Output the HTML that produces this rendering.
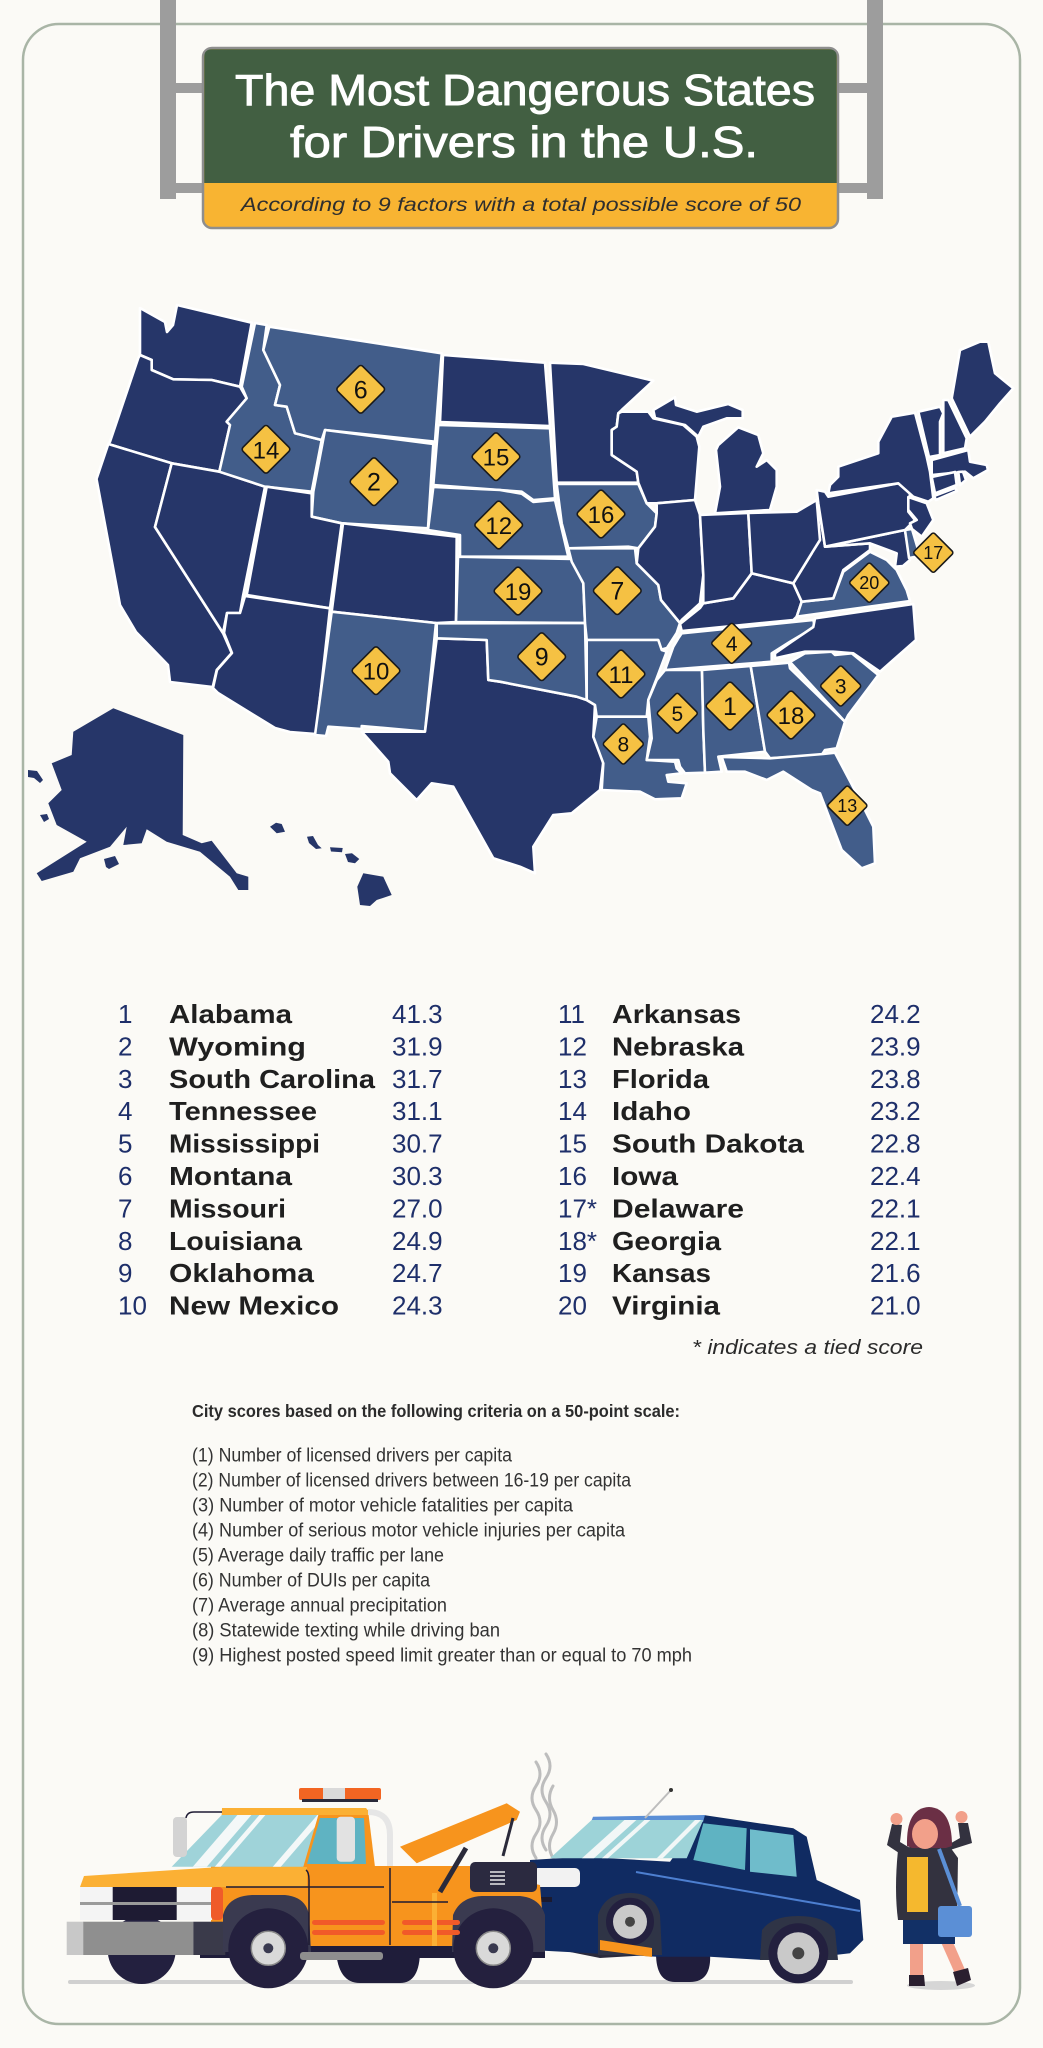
<!DOCTYPE html>
<html><head><meta charset="utf-8"><style>
html,body{margin:0;padding:0;background:#fbfaf6;}
svg{display:block;}
.d{fill:#263669;stroke:#fff;stroke-width:2.6;stroke-linejoin:round;}
.l{fill:#425d8a;stroke:#fff;stroke-width:2.6;stroke-linejoin:round;}
.n{fill:#263669;}
.dm{fill:#f5c143;stroke:#1a1a1a;stroke-width:1.6;}
.dt{font-family:"Liberation Sans",sans-serif;fill:#111;text-anchor:middle;}
.rk{font-family:"Liberation Sans",sans-serif;font-size:26px;fill:#1e2f6a;}
.nm{font-family:"Liberation Sans",sans-serif;font-size:26px;font-weight:bold;fill:#1f1f1f;}
.sc{font-family:"Liberation Sans",sans-serif;font-size:26px;fill:#1e2f6a;}
.cr{font-family:"Liberation Sans",sans-serif;font-size:19px;fill:#333;}
</style></head><body>
<svg width="1043" height="2048" viewBox="0 0 1043 2048" xmlns="http://www.w3.org/2000/svg">
<rect width="1043" height="2048" fill="#fbfaf6"/>
<!-- frame -->
<rect x="23" y="24" width="997" height="2000" rx="36" fill="none" stroke="#a9b5a6" stroke-width="2.5"/>
<!-- poles -->
<rect x="160" y="0" width="16" height="199" fill="#9d9d9d"/>
<rect x="867" y="0" width="16" height="199" fill="#9d9d9d"/>
<rect x="176" y="83" width="30" height="10" fill="#9d9d9d"/>
<rect x="176" y="183" width="30" height="10" fill="#9d9d9d"/>
<rect x="836" y="83" width="31" height="10" fill="#9d9d9d"/>
<rect x="836" y="183" width="31" height="10" fill="#9d9d9d"/>
<!-- sign -->
<rect x="203" y="48" width="635" height="180" rx="9" fill="#f8b432" stroke="#8e8e8e" stroke-width="2.5"/>
<path d="M212,49.25 L829,49.25 Q836.75,49.25 836.75,57 L836.75,183 L204.25,183 L204.25,57 Q204.25,49.25 212,49.25 Z" fill="#425f42"/>
<text x="235" y="105" font-family="'Liberation Sans',sans-serif" font-size="44" fill="#fff" stroke="#fff" stroke-width="0.9" textLength="580" lengthAdjust="spacingAndGlyphs">The Most Dangerous States</text>
<text x="290" y="157" font-family="'Liberation Sans',sans-serif" font-size="44" fill="#fff" stroke="#fff" stroke-width="0.9" textLength="468" lengthAdjust="spacingAndGlyphs">for Drivers in the U.S.</text>
<text x="241" y="211" font-family="'Liberation Sans',sans-serif" font-size="19" font-style="italic" fill="#2e2e2e" textLength="560" lengthAdjust="spacingAndGlyphs">According to 9 factors with a total possible score of 50</text>

<!-- MAP -->
<g>
<polygon class="d" points="140,308 165,322 167,332 173,325 177,305 251.7,322.7 240,386.7 211.7,380 173.3,379.3 151.7,370 151.7,360 140,355"/>
<polygon class="d" points="140,355 151.7,360 151.7,370 173.3,379.3 211.7,380 240,386.7 246.7,398.3 226.7,421.7 230,425 219.3,471.7 171.7,463.3 108.3,444 110,441.7 138.3,358"/>
<polygon class="d" points="108.3,444 171.7,463.3 155,527 223,633 231.7,653 216.7,670 212.7,687 170,682 168,665 136,632 120,605 96.5,479"/>
<polygon class="d" points="171.7,463.3 219.3,471.7 265,486.7 243,596 240,613 227,613 223,633 155,527"/>
<polygon class="l" points="255,323 266.7,325 263.3,350 280,385 275,405 286.7,406.7 295,433.3 321.7,440 311.7,491.7 265,486.7 219.3,471.7 230,425 226.7,421.7 246.7,398.3 241.7,386.7"/>
<polygon class="l" points="269.3,326.7 441.7,353.3 435,441.7 325,430 321.7,440 295,433.3 286.7,406.7 275,405 280,385 263.3,350"/>
<polygon class="l" points="325,430 433.3,444 428,528.3 341.7,523.3 311.7,516.7 313.3,491.7"/>
<polygon class="d" points="266.7,486.7 311.7,493.3 311.7,516.7 341.7,523.3 330,608.3 246.7,595"/>
<polygon class="d" points="343,523.3 456.7,536.7 456,622 436,623 331.7,611.7"/>
<polygon class="d" points="245,596 330,608.3 316,734 290,732 275,728 218,693 213,688 217,670 232,653 224,633 227,613 240,613"/>
<polygon class="l" points="331.7,611.7 436,623 425,731.7 361.7,726 361.7,729 328.3,726.7 326,736 315,735"/>
<polygon class="d" points="436.7,638.3 486.7,640 488.3,680 500,681.7 576.7,696.7 586.7,700 595,705 593.3,736.7 603.3,761.7 600,790 571.7,813.3 553.3,815 533.3,846.7 535,873.3 520,866.7 493.3,858.3 453.3,786.7 431.7,783.3 416.7,800 390,773.3 388.3,761.7 361.7,731.7 425,731.7"/>
<polygon class="d" points="443,355 545,362.7 550,426 440,422"/>
<polygon class="l" points="438.3,425 550,428.3 555,498.3 533.3,500 521.7,491.7 500,490 433.3,485"/>
<polygon class="l" points="433.3,487 500,490 521.7,493.7 533.3,502 555,500 568.3,556.7 460,556.7 460,535 428,530"/>
<polygon class="l" points="458,556.7 571.7,559 583.3,583.3 585,623 456,622"/>
<polygon class="l" points="436.7,623.3 585,623 586.7,700 576.7,696.7 500,681.7 488.3,680 486.7,640 436.7,638.3"/>
<polygon class="d" points="550,362.7 583.3,364 653.3,380.7 621.7,410 618.3,413.3 616.7,426.7 611.7,430 611.7,455 636.7,471.7 638.3,482.7 556.7,482.7"/>
<polygon class="l" points="556.7,484 638.3,484 646.7,503.3 656.7,513.3 655,526.7 638.3,548.3 628.3,546.7 568.3,548.3 561.7,523.3"/>
<polygon class="l" points="568.3,548.3 635,548.3 636.7,563.3 658.3,585 661,600 680,623 676.7,633 667,648 660,650 658,640 586.7,640 585,623 583.3,583.3 571.7,561.7"/>
<polygon class="l" points="586.7,640 658.3,640 661.7,650 666.7,651.7 656.7,678.3 648.3,700 646.7,716.7 596.7,716.7 595,705 586.7,700"/>
<polygon class="l" points="596.7,716.7 648.3,716.7 650,736.7 646.7,760 675,761.7 676.7,768.3 681.7,773.3 666.7,775 668.3,781.7 686.7,783.3 681.7,798.3 655,799.3 640,791.7 601.7,790 603.3,763.3 593.3,736.7"/>
<polygon class="l" points="665,670 702,670 703.3,730 705,772.7 685,773.3 680,766.7 678.3,760 646.7,760 651.7,738.3 648.3,700 656.7,680"/>
<polygon class="l" points="702,670 750.7,666 765,751.7 718.3,756.7 721.7,771.7 705,772.7 703.3,730"/>
<polygon class="l" points="750.7,666 789,662.7 790,668.3 845,721.7 836.7,748.3 825,750 821.7,755 770,758.3 765,751.7"/>
<polygon class="l" points="790,662 805,653.3 831.7,651.7 835,655 851.7,653.3 878.3,675 848.3,715 845,721.7"/>
<polygon class="l" points="721.7,757 770,758.3 823.3,754 835,752.7 860,800 873.3,826.7 875,863.3 861.7,868.3 841.7,850 820,793.3 811.7,790 783.3,771.7 766.7,780 745,771.7 726.7,771.7"/>
<polygon class="l" points="678.3,638.3 681.7,633.3 813.3,620 815,627 790,641.7 771.7,653.3 771.7,661.7 665,670 673.3,646.7"/>
<polygon class="d" points="815,618.3 913.3,604 916,640 880,671.7 853.3,653.3 833.3,651.7 805,651.7 775,658.3 775,653.3 791.7,641.7 813.3,627"/>
<polygon class="d" points="700,608 703.3,603.3 733.3,598.3 751.7,573.3 793.3,583.3 801.7,601.7 796.7,616.7 793.3,620 681.7,631 680,624"/>
<polygon class="l" points="796.7,616.7 801.7,601.7 833.3,598.3 843.3,571.7 870,551.7 886.7,560 896.7,570 906.7,590 910,601"/>
<polygon class="d" points="793.3,583.3 811.7,553.3 818.3,503.3 825,546.7 870,543.3 870,550 843.3,570 833.3,598.3 801.7,601.7"/>
<polygon class="d" points="825,546.7 905,530 910,560 903,566 895,566.7 896.7,553.3 870,543.3"/>
<polygon class="l" points="905,530 912,529 920,556 909,558"/>
<polygon class="d" points="816.7,490 825,491.7 828.3,496.7 898.3,483.3 910,493.3 908.3,511.7 915,520 905,530 825,546.7 818.3,503.3"/>
<polygon class="d" points="908.3,497 926.7,503.3 933.3,520 921.7,536.7 912,529 910,523.3 916.7,520 908.3,510"/>
<polygon class="d" points="828.3,493.3 830,485 838.3,476.7 838.3,466.7 878.3,453.3 878.3,441.7 891.7,416.7 915,412.7 926.7,456.7 930,471.7 933.3,498.3 928.3,501.7 913.3,496.7 898.3,483.3"/>
<polygon class="d" points="934,496 955,488 957,491 936,500"/>
<polygon class="d" points="918.3,411.7 940,406.7 943.3,413.3 940,421.7 940,455 929,457"/>
<polygon class="d" points="943.3,400 948.3,400 966.7,438.3 965,448.3 943.3,453.3 943.3,423.3"/>
<polygon class="d" points="951.7,398.3 960,350 980,341.7 988.3,341.7 995,373.3 1013.3,388.3 1000,403.3 985,421.7 970,436.7"/>
<polygon class="d" points="931.7,460 968.3,450 970,461.7 986.7,465 988,470 973.3,478.3 965,471.7 931.7,475"/>
<polygon class="d" points="931.7,477 955,472 956.7,485 935,493.3"/>
<polygon class="d" points="958.3,472 963,471.7 966,480 960,485"/>
<polygon class="d" points="621.7,411.7 648.3,411.7 653.3,418.3 683.3,425 696.7,436.7 699.3,446.7 695,500 656.7,503.3 646.7,503.3 638.3,482.7 636.7,471.7 611.7,455 611.7,430 616.7,426.7 618.3,413.3"/>
<polygon class="d" points="653.3,410 675,397.3 676,405 696.7,411.7 728.3,404 742.7,410 742.7,418.3 726.7,418.3 703.3,426.7 698.3,436.7 685,425 655,418"/>
<polygon class="d" points="738.3,427.3 758.3,435 763.3,453.3 756.7,466.7 766.7,460 776.7,470 776.7,486.7 770,510 715,513.3 720,486.7 716,450 718.3,445"/>
<polygon class="d" points="656.7,503.3 695,500 700,515 703.3,575 700,603.3 681.7,620 680,623 661,600 658.3,585 636.7,563.3 638.3,548.3 655,526.7 656.7,513.3"/>
<polygon class="d" points="700,515 748.3,513 751.7,573.3 733.3,598.3 703.3,603.3 703.3,575"/>
<polygon class="d" points="748.3,513 796.7,511.7 816.7,500 820,540 811.7,553.3 793.3,583.3 751.7,573.3"/>
<!-- Alaska -->
<polygon class="n" points="73.3,731.7 113.3,708.3 183.3,735 182.7,835 201.7,843.3 211.7,840.7 236.7,873.3 248.3,876.7 248.3,890 238.3,890 230,876.7 200,851.7 166.7,841.7 146.7,829.3 141.7,843.3 123.3,845 126.7,826.7 110,846.7 80,858.3 73.3,871.7 41.7,881 36.7,873.3 86.7,841.7 56.7,825 48.3,803.3 61.7,790 51.7,763.3 71.7,755"/>
<polygon class="n" points="28,770 37,771 43,780 40,783 34,778 28,777"/>
<polygon class="n" points="40,815 47,814 49,819 44,822"/>
<polygon class="n" points="104,859 115,856 119,864 109,869 106,867"/>
<polygon class="n" points="276,822.7 281.7,824 285,831.7 276.7,833.3 270,826.7"/>
<polygon class="n" points="307,836.7 313,836 318,845 321.7,848.3 316,849 309,843"/>
<polygon class="n" points="330,847.3 342.7,848 342,852.3 331,851.5"/>
<polygon class="n" points="345,854 352,853.3 359.3,859 355,863.3 348,862"/>
<polygon class="n" points="363.3,873.3 383.3,876.7 391.7,895 376.7,900 370,906 360,905 357.3,886.7"/>
</g>
<!-- diamonds -->
<g>
<g transform="translate(360.7,389.3)"><rect class="dm" x="-17.7" y="-17.7" width="35.4" height="35.4" rx="3" transform="rotate(45)"/><text class="dt" y="9" font-size="25">6</text></g>
<g transform="translate(266,449.3)"><rect class="dm" x="-17.7" y="-17.7" width="35.4" height="35.4" rx="3" transform="rotate(45)"/><text class="dt" y="9" font-size="24">14</text></g>
<g transform="translate(374,481.7)"><rect class="dm" x="-17.7" y="-17.7" width="35.4" height="35.4" rx="3" transform="rotate(45)"/><text class="dt" y="9" font-size="25">2</text></g>
<g transform="translate(496,456.7)"><rect class="dm" x="-17.7" y="-17.7" width="35.4" height="35.4" rx="3" transform="rotate(45)"/><text class="dt" y="9" font-size="24">15</text></g>
<g transform="translate(498.7,525)"><rect class="dm" x="-17.7" y="-17.7" width="35.4" height="35.4" rx="3" transform="rotate(45)"/><text class="dt" y="9" font-size="24">12</text></g>
<g transform="translate(518,591)"><rect class="dm" x="-17.7" y="-17.7" width="35.4" height="35.4" rx="3" transform="rotate(45)"/><text class="dt" y="9" font-size="24">19</text></g>
<g transform="translate(601,514)"><rect class="dm" x="-17.7" y="-17.7" width="35.4" height="35.4" rx="3" transform="rotate(45)"/><text class="dt" y="9" font-size="24">16</text></g>
<g transform="translate(617.3,590.7)"><rect class="dm" x="-17.7" y="-17.7" width="35.4" height="35.4" rx="3" transform="rotate(45)"/><text class="dt" y="9" font-size="25">7</text></g>
<g transform="translate(376,670.7)"><rect class="dm" x="-17.7" y="-17.7" width="35.4" height="35.4" rx="3" transform="rotate(45)"/><text class="dt" y="9" font-size="24">10</text></g>
<g transform="translate(541.7,656.7)"><rect class="dm" x="-17.7" y="-17.7" width="35.4" height="35.4" rx="3" transform="rotate(45)"/><text class="dt" y="9" font-size="25">9</text></g>
<g transform="translate(621,674)"><rect class="dm" x="-17.7" y="-17.7" width="35.4" height="35.4" rx="3" transform="rotate(45)"/><text class="dt" y="9" font-size="24">11</text></g>
<g transform="translate(730,706)"><rect class="dm" x="-17.7" y="-17.7" width="35.4" height="35.4" rx="3" transform="rotate(45)"/><text class="dt" y="9" font-size="25">1</text></g>
<g transform="translate(791,715)"><rect class="dm" x="-17.7" y="-17.7" width="35.4" height="35.4" rx="3" transform="rotate(45)"/><text class="dt" y="9" font-size="24">18</text></g>
<g transform="translate(731.7,643.3)"><rect class="dm" x="-14.8" y="-14.8" width="29.6" height="29.6" rx="2.5" transform="rotate(45)"/><text class="dt" y="7.5" font-size="21">4</text></g>
<g transform="translate(677.3,713.3)"><rect class="dm" x="-14.8" y="-14.8" width="29.6" height="29.6" rx="2.5" transform="rotate(45)"/><text class="dt" y="7.5" font-size="21">5</text></g>
<g transform="translate(840.7,686)"><rect class="dm" x="-14.8" y="-14.8" width="29.6" height="29.6" rx="2.5" transform="rotate(45)"/><text class="dt" y="7.5" font-size="21">3</text></g>
<g transform="translate(623.3,744)"><rect class="dm" x="-14.8" y="-14.8" width="29.6" height="29.6" rx="2.5" transform="rotate(45)"/><text class="dt" y="7.5" font-size="21">8</text></g>
<g transform="translate(847.3,805.7)"><rect class="dm" x="-14.5" y="-14.5" width="29" height="29" rx="2.5" transform="rotate(45)"/><text class="dt" y="6.5" font-size="18">13</text></g>
<g transform="translate(869.3,582.7)"><rect class="dm" x="-14.5" y="-14.5" width="29" height="29" rx="2.5" transform="rotate(45)"/><text class="dt" y="6.5" font-size="18">20</text></g>
<g transform="translate(933.3,552.7)"><rect class="dm" x="-14.5" y="-14.5" width="29" height="29" rx="2.5" transform="rotate(45)"/><text class="dt" y="6.5" font-size="18">17</text></g>
</g>

<!-- LIST left -->
<g>
<text class="rk" x="118" y="1023">1</text><text class="nm" x="169" y="1023" textLength="123" lengthAdjust="spacingAndGlyphs">Alabama</text><text class="sc" x="392" y="1023">41.3</text>
<text class="rk" x="118" y="1055.4">2</text><text class="nm" x="169" y="1055.4" textLength="137" lengthAdjust="spacingAndGlyphs">Wyoming</text><text class="sc" x="392" y="1055.4">31.9</text>
<text class="rk" x="118" y="1087.8">3</text><text class="nm" x="169" y="1087.8" textLength="206" lengthAdjust="spacingAndGlyphs">South Carolina</text><text class="sc" x="392" y="1087.8">31.7</text>
<text class="rk" x="118" y="1120.2">4</text><text class="nm" x="169" y="1120.2" textLength="148" lengthAdjust="spacingAndGlyphs">Tennessee</text><text class="sc" x="392" y="1120.2">31.1</text>
<text class="rk" x="118" y="1152.6">5</text><text class="nm" x="169" y="1152.6" textLength="151" lengthAdjust="spacingAndGlyphs">Mississippi</text><text class="sc" x="392" y="1152.6">30.7</text>
<text class="rk" x="118" y="1185">6</text><text class="nm" x="169" y="1185" textLength="123" lengthAdjust="spacingAndGlyphs">Montana</text><text class="sc" x="392" y="1185">30.3</text>
<text class="rk" x="118" y="1217.4">7</text><text class="nm" x="169" y="1217.4" textLength="117" lengthAdjust="spacingAndGlyphs">Missouri</text><text class="sc" x="392" y="1217.4">27.0</text>
<text class="rk" x="118" y="1249.8">8</text><text class="nm" x="169" y="1249.8" textLength="133" lengthAdjust="spacingAndGlyphs">Louisiana</text><text class="sc" x="392" y="1249.8">24.9</text>
<text class="rk" x="118" y="1282.2">9</text><text class="nm" x="169" y="1282.2" textLength="145" lengthAdjust="spacingAndGlyphs">Oklahoma</text><text class="sc" x="392" y="1282.2">24.7</text>
<text class="rk" x="118" y="1314.6">10</text><text class="nm" x="169" y="1314.6" textLength="170" lengthAdjust="spacingAndGlyphs">New Mexico</text><text class="sc" x="392" y="1314.6">24.3</text>
</g>
<!-- LIST right -->
<g>
<text class="rk" x="558" y="1023">11</text><text class="nm" x="612" y="1023" textLength="129" lengthAdjust="spacingAndGlyphs">Arkansas</text><text class="sc" x="870" y="1023">24.2</text>
<text class="rk" x="558" y="1055.4">12</text><text class="nm" x="612" y="1055.4" textLength="132" lengthAdjust="spacingAndGlyphs">Nebraska</text><text class="sc" x="870" y="1055.4">23.9</text>
<text class="rk" x="558" y="1087.8">13</text><text class="nm" x="612" y="1087.8" textLength="97" lengthAdjust="spacingAndGlyphs">Florida</text><text class="sc" x="870" y="1087.8">23.8</text>
<text class="rk" x="558" y="1120.2">14</text><text class="nm" x="612" y="1120.2" textLength="79" lengthAdjust="spacingAndGlyphs">Idaho</text><text class="sc" x="870" y="1120.2">23.2</text>
<text class="rk" x="558" y="1152.6">15</text><text class="nm" x="612" y="1152.6" textLength="192" lengthAdjust="spacingAndGlyphs">South Dakota</text><text class="sc" x="870" y="1152.6">22.8</text>
<text class="rk" x="558" y="1185">16</text><text class="nm" x="612" y="1185" textLength="66" lengthAdjust="spacingAndGlyphs">Iowa</text><text class="sc" x="870" y="1185">22.4</text>
<text class="rk" x="558" y="1217.4">17*</text><text class="nm" x="612" y="1217.4" textLength="132" lengthAdjust="spacingAndGlyphs">Delaware</text><text class="sc" x="870" y="1217.4">22.1</text>
<text class="rk" x="558" y="1249.8">18*</text><text class="nm" x="612" y="1249.8" textLength="109" lengthAdjust="spacingAndGlyphs">Georgia</text><text class="sc" x="870" y="1249.8">22.1</text>
<text class="rk" x="558" y="1282.2">19</text><text class="nm" x="612" y="1282.2" textLength="99" lengthAdjust="spacingAndGlyphs">Kansas</text><text class="sc" x="870" y="1282.2">21.6</text>
<text class="rk" x="558" y="1314.6">20</text><text class="nm" x="612" y="1314.6" textLength="108" lengthAdjust="spacingAndGlyphs">Virginia</text><text class="sc" x="870" y="1314.6">21.0</text>
<text x="692" y="1354" font-family="'Liberation Sans',sans-serif" font-size="20" font-style="italic" fill="#2a2a2a" textLength="231" lengthAdjust="spacingAndGlyphs">* indicates a tied score</text>
</g>
<!-- criteria -->
<g>
<text x="192" y="1417" font-family="'Liberation Sans',sans-serif" font-size="17.5" font-weight="bold" fill="#2b2b2b" textLength="488" lengthAdjust="spacingAndGlyphs">City scores based on the following criteria on a 50-point scale:</text>
<text class="cr" x="192" y="1461.7" textLength="320" lengthAdjust="spacingAndGlyphs">(1) Number of licensed drivers per capita</text>
<text class="cr" x="192" y="1486.7" textLength="439" lengthAdjust="spacingAndGlyphs">(2) Number of licensed drivers between 16-19 per capita</text>
<text class="cr" x="192" y="1511.7" textLength="381" lengthAdjust="spacingAndGlyphs">(3) Number of motor vehicle fatalities per capita</text>
<text class="cr" x="192" y="1536.7" textLength="433" lengthAdjust="spacingAndGlyphs">(4) Number of serious motor vehicle injuries per capita</text>
<text class="cr" x="192" y="1561.7" textLength="252" lengthAdjust="spacingAndGlyphs">(5) Average daily traffic per lane</text>
<text class="cr" x="192" y="1586.7" textLength="238" lengthAdjust="spacingAndGlyphs">(6) Number of DUIs per capita</text>
<text class="cr" x="192" y="1611.7" textLength="255" lengthAdjust="spacingAndGlyphs">(7) Average annual precipitation</text>
<text class="cr" x="192" y="1636.7" textLength="308" lengthAdjust="spacingAndGlyphs">(8) Statewide texting while driving ban</text>
<text class="cr" x="192" y="1661.7" textLength="500" lengthAdjust="spacingAndGlyphs">(9) Highest posted speed limit greater than or equal to 70 mph</text>
</g>

<!-- ILLUSTRATION -->
<defs>
<clipPath id="ws"><polygon points="171.7,1866.7 221.7,1815 318.3,1815 303.3,1866.7"/></clipPath>
<clipPath id="cws"><polygon points="550,1858.3 591.7,1820 703.3,1820 686.7,1858.3"/></clipPath>
</defs>
<!-- ground -->
<line x1="70" y1="1982" x2="851" y2="1982" stroke="#d0d0d0" stroke-width="4" stroke-linecap="round"/>
<ellipse cx="941" cy="1985.5" rx="34" ry="4.5" fill="#d6d6d6"/>
<!-- steam -->
<g fill="none" stroke="#bdbdbd" stroke-width="3" stroke-linecap="round">
<path d="M536,1858 q-8,-12 0,-24 q8,-12 0,-24 q-8,-12 0,-24 q8,-12 0,-24"/>
<path d="M546,1850 q-8,-12 0,-24 q8,-12 0,-24 q-8,-12 0,-24 q8,-12 0,-24"/>
<path d="M553,1858 q-7,-12 0,-24 q7,-12 0,-24 q-7,-12 0,-24"/>
</g>
<!-- car -->
<path d="M560,1930 L640,1940 L650,1955 L600,1958 L560,1950 Z" fill="#2a2a3c"/>
<path d="M656,1953 L710,1953 Q712,1982 690,1982 L675,1982 Q656,1982 656,1953 Z" fill="#201d3c"/>
<path d="M530,1860 L583,1856.7 L670,1861.7 L703.3,1815 L793.3,1828.3 L806.7,1836.7 L816.7,1880 L860,1900 L863.3,1940 L850,1953.3 L820,1956.7 L763,1960 L710,1956.7 L656.7,1956.7 L530,1950 Z" fill="#102b62"/>
<path d="M593,1816.7 L705,1815 L703,1822 L591,1822 Z" fill="#5b8fd6"/>
<polygon points="550,1858.3 591.7,1820 703.3,1820 686.7,1858.3" fill="#9dd3d8"/>
<g clip-path="url(#cws)" fill="#f2f7f7"><polygon points="580,1860 630,1815 642,1815 592,1860"/><polygon points="600,1860 650,1815 656,1815 606,1860"/><polygon points="655,1860 700,1815 706,1815 661,1860"/></g>
<polygon points="693.3,1860 703.3,1823.3 746.7,1828.3 745,1870" fill="#5fb3c2"/>
<polygon points="750,1829.3 793.3,1835 796.7,1876.7 750,1871.7" fill="#6fbccb"/>
<path d="M636,1872 L860,1911" stroke="#4d7fd0" stroke-width="2"/>
<rect x="533" y="1868" width="47" height="19" rx="5" fill="#f2f2f2"/>
<rect x="530" y="1897" width="22" height="5" fill="#1a1a30"/>
<line x1="645" y1="1818" x2="671" y2="1790" stroke="#bdbdbd" stroke-width="2"/>
<circle cx="671" cy="1790" r="2" fill="#333"/>
<path d="M598,1955 L598,1915 Q605,1893 630,1893 Q655,1893 660,1915 L662,1955 Z" fill="#2f3446"/>
<path d="M760,1960 L762,1930 Q772,1916 798,1916 Q825,1916 835,1930 L838,1960 Z" fill="#2f3446"/>
<circle cx="630" cy="1921.7" r="24" fill="#23203f"/><circle cx="630" cy="1921.7" r="17" fill="#c9c9c9"/><circle cx="630" cy="1921.7" r="5" fill="#444"/>
<circle cx="798.3" cy="1953.3" r="30" fill="#23203f"/><circle cx="798.3" cy="1953.3" r="21" fill="#c9c9c9"/><circle cx="798.3" cy="1953.3" r="6" fill="#444"/>
<path d="M600,1940 L652,1948 L652,1957 L600,1950 Z" fill="#f7941d"/>
<!-- truck -->
<rect x="200" y="1928" width="345" height="30" fill="#1f1d3a"/>
<path d="M336,1950 Q338,1983 360,1983 L400,1983 Q420,1983 420,1950 Z" fill="#1f1d3a"/>
<circle cx="141.7" cy="1950" r="34" fill="#23203f"/>
<rect x="390" y="1866" width="80" height="80" fill="#f7941d"/>
<path d="M470,1870 L540,1885 L545,1946 L470,1946 Z" fill="#f7941d"/>
<rect x="211" y="1866" width="180" height="80" fill="#f7941d"/>
<path d="M80,1887 L84,1876 L220,1867 L307,1866 L307,1887 Z" fill="#fbb034"/>
<rect x="80" y="1887" width="132" height="33" fill="#f4f4f4"/>
<rect x="112.7" y="1887" width="64" height="33" fill="#1e1b33"/>
<rect x="80" y="1902" width="132" height="3" fill="#9a9a9a"/>
<rect x="211" y="1887" width="12" height="33" rx="4" fill="#ef5b2a"/>
<rect x="66.7" y="1921.7" width="17" height="33.3" fill="#c8c8c8"/>
<rect x="83.3" y="1921.7" width="110" height="33.3" fill="#8f8f8f"/>
<rect x="193.3" y="1921.7" width="32" height="33.3" fill="#3a3a4a"/>
<path d="M223,1952 L223,1915 Q228,1896 252,1895 L285,1895 Q306,1897 309,1915 L311,1952 Z" fill="#3a3a50"/>
<circle cx="268.3" cy="1948.3" r="40" fill="#24203e"/><circle cx="268.3" cy="1948.3" r="17" fill="#d9d9d9" stroke="#888" stroke-width="1.5"/><circle cx="268.3" cy="1948.3" r="5" fill="#3a3a50"/>
<path d="M452,1952 L453,1915 Q460,1897 482,1896 L520,1896 Q540,1898 545,1915 L545,1952 Z" fill="#3a3a50"/>
<circle cx="493.3" cy="1948.3" r="40" fill="#24203e"/><circle cx="493.3" cy="1948.3" r="17" fill="#d9d9d9" stroke="#888" stroke-width="1.5"/><circle cx="493.3" cy="1948.3" r="5" fill="#3a3a50"/>
<rect x="300" y="1952" width="83" height="8" rx="3" fill="#8e8e8e"/>
<rect x="312" y="1920" width="73" height="5" rx="2.5" fill="#f15a29"/>
<rect x="312" y="1930" width="73" height="5" rx="2.5" fill="#f15a29"/>
<rect x="402" y="1920" width="58" height="5" rx="2.5" fill="#f15a29"/>
<rect x="402" y="1930" width="58" height="5" rx="2.5" fill="#f15a29"/>
<rect x="432" y="1893" width="5" height="53" fill="#fbb034"/>
<path d="M226,1887 L384,1887" stroke="#1e1b33" stroke-width="1.5"/>
<path d="M306,1870 Q309,1872 309,1880 L309,1945" stroke="#1e1b33" stroke-width="1.5" fill="none"/>
<path d="M390,1868 L390,1945" stroke="#1e1b33" stroke-width="1.5"/>
<path d="M392,1902 L448,1902" stroke="#1e1b33" stroke-width="1.5"/>
<path d="M301,1867 L318,1810 L368,1810 L375,1867 Z" fill="#f7941d"/>
<path d="M221.7,1815 L222,1808 L366,1808 L372,1815 Z" fill="#fbb034"/>
<polygon points="307,1864 320,1818 364,1818 366,1864" fill="#5fb3c2"/>
<rect x="336.7" y="1816.7" width="18.3" height="45" rx="4" fill="#e2e2e2"/>
<polygon points="171.7,1866.7 221.7,1815 318.3,1815 303.3,1866.7" fill="#9fd3d9"/>
<g clip-path="url(#ws)" fill="#f4f8f8"><polygon points="190,1870 240,1812 254,1812 204,1870"/><polygon points="212,1870 262,1812 268,1812 218,1870"/><polygon points="270,1870 320,1812 328,1812 278,1870"/></g>
<rect x="173" y="1817" width="14" height="40" rx="4" fill="#d3d3d3"/>
<path d="M186,1818 Q187,1812 194,1812 L222,1812" stroke="#1e1b33" stroke-width="1.5" fill="none"/>
<path d="M368,1812 Q390,1812 390,1835 L390,1866" stroke="#e6e6e6" stroke-width="6" fill="none"/>
<rect x="299" y="1788" width="82" height="12" rx="2" fill="#f26522"/>
<rect x="323" y="1788" width="22" height="12" fill="#dadada"/>
<rect x="302" y="1799" width="76" height="3" fill="#2a2a3a"/>
<polygon points="400,1846.7 506.7,1803.3 520,1811.7 516.7,1820 416.7,1863.3" fill="#f7941d"/>
<line x1="440" y1="1892" x2="466" y2="1848" stroke="#2a2a3a" stroke-width="5"/>
<line x1="513" y1="1818" x2="503" y2="1856" stroke="#2a2a3a" stroke-width="3"/>
<rect x="470" y="1862" width="67" height="30" rx="5" fill="#2b2a40"/>
<g stroke="#e8e8e8" stroke-width="1.5"><line x1="490" y1="1872" x2="505" y2="1872"/><line x1="490" y1="1876" x2="505" y2="1876"/><line x1="490" y1="1880" x2="505" y2="1880"/><line x1="490" y1="1884" x2="505" y2="1884"/></g>
<!-- woman -->
<rect x="910" y="1940" width="13" height="37" fill="#f2a08a"/>
<polygon points="940,1940 952,1940 966,1972 956,1976" fill="#f2a08a"/>
<path d="M909,1975 L924,1975 L925,1986 L909,1986 Z" fill="#2a1f2f"/>
<path d="M953,1972 L968,1968 L971,1980 L957,1986 Z" fill="#2a1f2f"/>
<rect x="903" y="1913" width="52" height="31" fill="#123066"/>
<path d="M898,1850 L910,1847 L950,1847 L958,1858 L957,1920 L898,1920 Q894,1890 898,1850 Z" fill="#33323f"/>
<path d="M899,1853 L887,1845 L892,1824 L902,1825 L900,1842 L910,1848 Z" fill="#33323f"/>
<path d="M950,1850 L972,1843 L968,1823 L958,1823 L960,1838 L946,1846 Z" fill="#33323f"/>
<circle cx="896.5" cy="1819" r="6" fill="#f2a08a"/><circle cx="961.5" cy="1817" r="6" fill="#f2a08a"/>
<rect x="907" y="1857" width="21" height="55" fill="#f5b82e"/>
<path d="M907,1846 Q906,1808 929,1807 Q952,1808 952,1846 L946,1848 L912,1848 Z" fill="#6b2f45"/>
<ellipse cx="925" cy="1834" rx="13" ry="15" fill="#f2a08a"/>
<path d="M939,1849 L960,1906" stroke="#5b8fd6" stroke-width="4"/>
<rect x="938" y="1906" width="34" height="31" rx="3" fill="#5b8fd6"/>
</svg>
</body></html>
